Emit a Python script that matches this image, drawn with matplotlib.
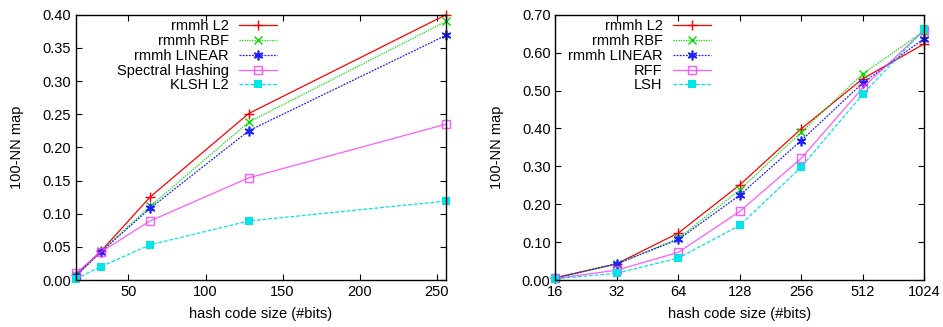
import matplotlib
matplotlib.use('Agg')
import matplotlib.pyplot as plt

plt.rcParams['font.family'] = ['Liberation Sans', 'DejaVu Sans']
plt.rcParams['font.size'] = 10.5

bits = [16, 32, 64, 128, 256]
bits_big = [16, 32, 64, 128, 256, 512, 1024]

# left panel
left_names = ['rmmh L2', 'rmmh RBF', 'rmmh LINEAR', 'Spectral Hashing', 'KLSH L2']
left_l2 = [0.008, 0.043, 0.125, 0.251, 0.400]
left_rbf = [0.007, 0.043, 0.111, 0.238, 0.390]
left_lin = [0.006, 0.042, 0.108, 0.225, 0.369]
left_sh = [0.010, 0.042, 0.089, 0.154, 0.235]
left_klsh = [0.002, 0.020, 0.053, 0.089, 0.119]

# right panel
right_names = ['rmmh L2', 'rmmh RBF', 'rmmh LINEAR', 'RFF', 'LSH']
right_l2 = [0.006, 0.043, 0.124, 0.251, 0.399, 0.531, 0.623]
right_rbf = [0.006, 0.042, 0.110, 0.238, 0.390, 0.544, 0.657]
right_lin = [0.005, 0.043, 0.107, 0.224, 0.368, 0.520, 0.637]
right_rff = [0.004, 0.026, 0.073, 0.181, 0.321, 0.507, 0.659]
right_lsh = [0.003, 0.018, 0.058, 0.144, 0.298, 0.490, 0.661]

styles = [
    dict(color='#ff0000', ls='-', marker='+', ms=7, mew=1.0),
    dict(color='#00dd00', ls=(0, (1, 1)), marker='x', ms=6, mew=1.0),
    dict(color='#2020ff', ls=(0, (1.5, 1)), marker=(6, 2, 0), ms=7, mew=1.2),
    dict(color='#ff33ff', ls='-', marker='s', ms=6, mew=1.0, mfc='none', alpha=0.8),
    dict(color='#00e5e5', ls=(0, (3, 1.5)), marker='s', ms=6, mew=0),
]


def style_axes(ax):
    ax.tick_params(direction='in', top=True, right=True, length=4, width=0.8)
    for s in ax.spines.values():
        s.set_linewidth(1.0)
    ax.set_xlabel('hash code size (#bits)', labelpad=6)
    ax.set_ylabel('100-NN map', labelpad=13)


def add_legend(ax, xr):
    ax.legend(loc='upper right', bbox_to_anchor=(xr, 0.982), frameon=False, markerfirst=False,
              handlelength=2.6, handletextpad=0.7, labelspacing=0.05, borderpad=0,
              borderaxespad=0)


fig = plt.figure(figsize=(9.43, 3.27), dpi=100)

ax1 = fig.add_axes([0.0806, 0.1437, 0.3924, 0.8113])
for name, vals, st in zip(left_names, [left_l2, left_rbf, left_lin, left_sh, left_klsh], styles):
    ax1.plot(bits, vals, label=name, lw=0.9, clip_on=False, **st)
ax1.set_xlim(16, 256)
ax1.set_ylim(0, 0.40)
ax1.set_xticks([50, 100, 150, 200, 250])
ax1.set_yticks([i * 0.05 for i in range(9)])
ax1.set_yticklabels(['%.2f' % (i * 0.05) for i in range(9)])
style_axes(ax1)
add_legend(ax1, 0.543)

ax2 = fig.add_axes([0.589, 0.1437, 0.391, 0.8113])
for name, vals, st in zip(right_names, [right_l2, right_rbf, right_lin, right_rff, right_lsh], styles):
    ax2.plot(bits_big, vals, label=name, lw=0.9, clip_on=False, **st)
ax2.set_xscale('log', base=2)
ax2.set_xlim(16, 1024)
ax2.set_ylim(0, 0.70)
ax2.set_xticks(bits_big)
ax2.set_xticklabels([str(b) for b in bits_big])
ax2.minorticks_off()
ax2.set_yticks([i * 0.1 for i in range(8)])
ax2.set_yticklabels(['%.2f' % (i * 0.1) for i in range(8)])
style_axes(ax2)
add_legend(ax2, 0.421)

plt.savefig('out.png', dpi=100)
plt.close()
